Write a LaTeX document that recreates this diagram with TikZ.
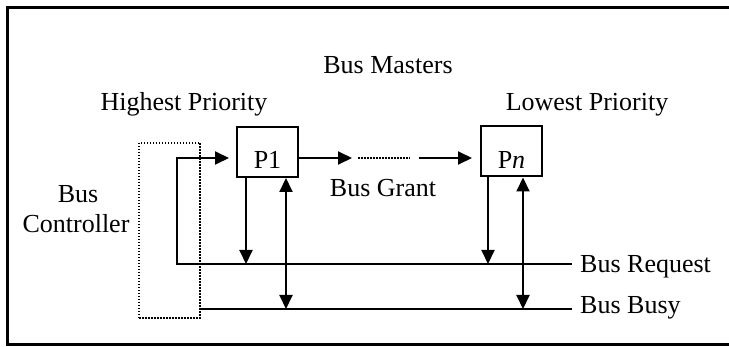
\documentclass[tikz,border=0pt]{standalone}
\usepackage{fontspec}
\setmainfont{Liberation Serif}
\usetikzlibrary{arrows.meta}
\begin{document}
\begin{tikzpicture}[x=1pt,y=-1pt,
  every node/.style={inner sep=0pt, font=\fontsize{26}{30}\selectfont},
  wire/.style={line width=2pt},
  tip/.tip={Triangle[length=14pt,width=13pt]},
  arr/.style={wire,-tip},
  dblarr/.style={wire,tip-tip},
  dots/.style={line width=2pt, dash pattern=on 1.5pt off 1.5pt},
  master/.style={draw, line width=2pt, minimum width=61pt, minimum height=50pt,
    text height=34pt, text depth=0pt},
  ctrlbox/.style={draw, dots, minimum width=61pt, minimum height=175pt},
  lbl/.style={anchor=base}]
\useasboundingbox (0,0) rectangle (729,347);

% outer frame (open on the right)
\draw[line width=3pt] (729,8) -- (7,8) -- (7,345) -- (729,345);

% bus masters and bus controller
\node[master] (p1) at (267.5,152) {P1};
\node[master] (pn) at (511.5,151.5) {P\textit{n}};
\node[ctrlbox] (bc) at (169.5,230.5) {};

% junction points
\coordinate (gy) at (0,158);
\coordinate (req0) at (177,264);
\coordinate (reqE) at (572,264);
\coordinate (busyE) at (572,309);
\coordinate (d1) at (358,158);
\coordinate (d2) at (410,158);
\coordinate (r1) at (246,264);
\coordinate (b1) at (286,309);
\coordinate (rn) at (488,264);
\coordinate (bn) at (523,309);

% bus request line, feeding the grant chain
\draw[arr, shorten >=7pt] (reqE) -- (req0) |- (p1.west |- gy);
% bus busy line
\draw[wire] (bc.east |- busyE) -- (busyE);

% daisy-chained bus grant
\draw[arr, shorten >=6pt] (p1.east |- gy) -- (d1);
\draw[dots, line width=1.5pt] (d1) -- (d2);
\draw[arr, shorten <=9pt, shorten >=8pt] (d2) -- (pn.west |- gy);

% request and busy connections
\draw[arr] (p1.south -| r1) -- (r1);
\draw[dblarr] (b1) -- (p1.south -| b1);
\draw[arr] (pn.south -| rn) -- (rn);
\draw[dblarr] (bn) -- (pn.south -| bn);

% labels
\node[lbl] (masters) at (388,74) {Bus Masters};
\node[lbl] (hi) at (184,111) {Highest Priority};
\node[lbl] (lo) at (587,111) {Lowest Priority};
\node[lbl] (bus) at (78,203) {Bus};
\node[lbl] (ctl) at (76,233) {Controller};
\node[lbl] (grant) at (383,197) {Bus Grant};
\node[anchor=base west] (lreq) at (580,273) {Bus Request};
\node[anchor=base west] (lbusy) at (580,314) {Bus Busy};
\end{tikzpicture}
\end{document}
